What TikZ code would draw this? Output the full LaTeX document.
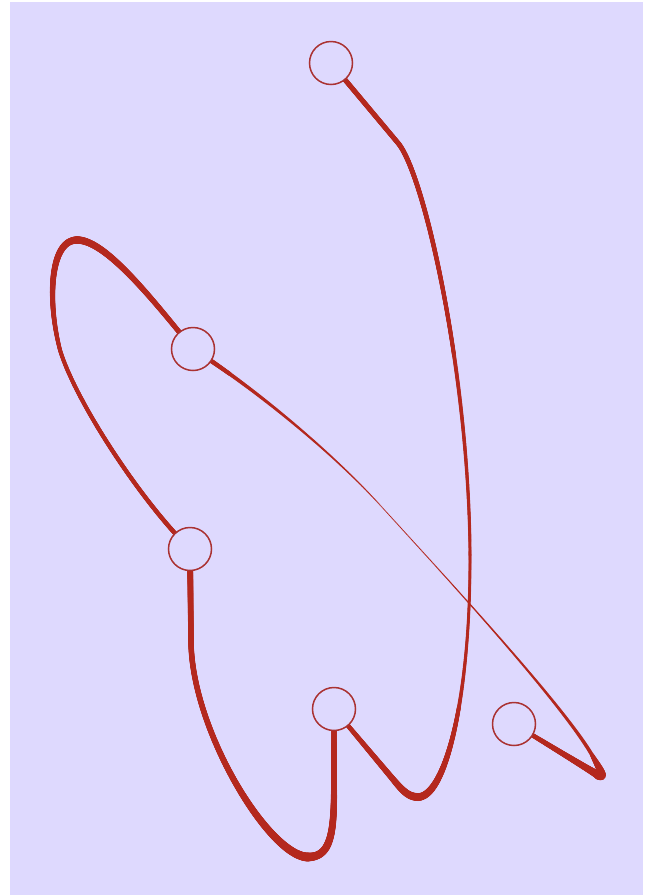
\documentclass[tikz,border=0pt]{standalone}
\usetikzlibrary{decorations.markings}
\definecolor{bgcol}{RGB}{222,217,254}
\definecolor{edgecol}{RGB}{180,40,30}
\definecolor{nodecol}{RGB}{170,50,50}
\pgfdeclarelayer{back}
\pgfdeclarelayer{edges}
\pgfsetlayers{back,edges,main}
\tikzset{
  vtx/.style={circle, draw=nodecol, line width=1.5pt, fill=bgcol, minimum size=43pt, inner sep=0pt},
  tp/.style n args={3}{postaction={decorate, decoration={markings,
    mark=between positions 0 and 1 step 0.5pt with {
      \pgfmathsetmacro\tpfrac{\pgfkeysvalueof{/pgf/decoration/mark info/distance from start}/\pgfdecoratedpathlength}
      \pgfmathsetmacro\tpw{#1+(#2-#1)*(max(\tpfrac,0.0001))^(#3)}
      \fill[edgecol] (0,0) circle[radius=\tpw*0.5pt];
    }}}},
}
\begin{document}
\begin{tikzpicture}[x=1pt,y=-1pt]
\useasboundingbox (0,0) rectangle (653,895);
\begin{pgfonlayer}{back}
\fill[bgcol] (10,2) rectangle (643,895);
\end{pgfonlayer}

\node[vtx] (A) at (331,63) {};
\node[vtx] (B) at (193,349) {};
\node[vtx] (C) at (190,549) {};
\node[vtx] (D) at (334,709) {};
\node[vtx] (E) at (514,724) {};

\begin{pgfonlayer}{edges}
% A -> D
\coordinate (a1) at (398,143);
\coordinate (a2) at (470,560);
\coordinate (a3) at (418,797);
\coordinate (a4) at (392,778);
\path[tp={5}{5}{1}] (A.center) -- (a1);
\path[tp={5}{3}{1}] (a1) .. controls (425,175) and (470,380) .. (a2);
\path[tp={3}{8}{3}] (a2) .. controls (470,700) and (445,797) .. (a3);
\path[tp={8}{6}{1}] (a3) .. controls (408,797) and (402,790) .. (a4);
\path[tp={6}{4}{1}] (a4) -- (D.center);

% B -> loop -> C
\coordinate (b1) at (77,240);
\coordinate (b2) at (60,350);
\path[tp={5}{7.5}{2}] (B.center) .. controls (150,296) and (105,240) .. (b1);
\path[tp={7.5}{4}{0.7}] (b1) .. controls (50,240) and (47,300) .. (b2);
\path[tp={4}{4.5}{1}] (b2) .. controls (75,400) and (140,500) .. (C.center);

% B -> tip -> E
\coordinate (c1) at (380,505);
\coordinate (c2) at (592,755);
\coordinate (c3) at (598,775);
\path[tp={5}{1}{0.8}] (B.center) .. controls (250,385) and (330,450) .. (c1);
\path[tp={1}{4}{2}] (c1) .. controls (430,560) and (560,700) .. (c2);
\path[tp={4}{9}{1}] (c2) .. controls (598,766) and (607,780) .. (c3);
\path[tp={8.5}{4}{0.5}] (c3) -- (E.center);

% C -> D
\coordinate (d1) at (191,640);
\coordinate (d2) at (308,857);
\coordinate (d3) at (334,790);
\path[tp={6}{5.5}{1}] (C.center) -- (d1);
\path[tp={5.5}{9}{3}] (d1) .. controls (191,730) and (270,857) .. (d2);
\path[tp={9}{6}{0.5}] (d2) .. controls (330,857) and (334,835) .. (d3);
\path[tp={6}{5}{1}] (d3) -- (D.center);
\end{pgfonlayer}
\end{tikzpicture}
\end{document}
